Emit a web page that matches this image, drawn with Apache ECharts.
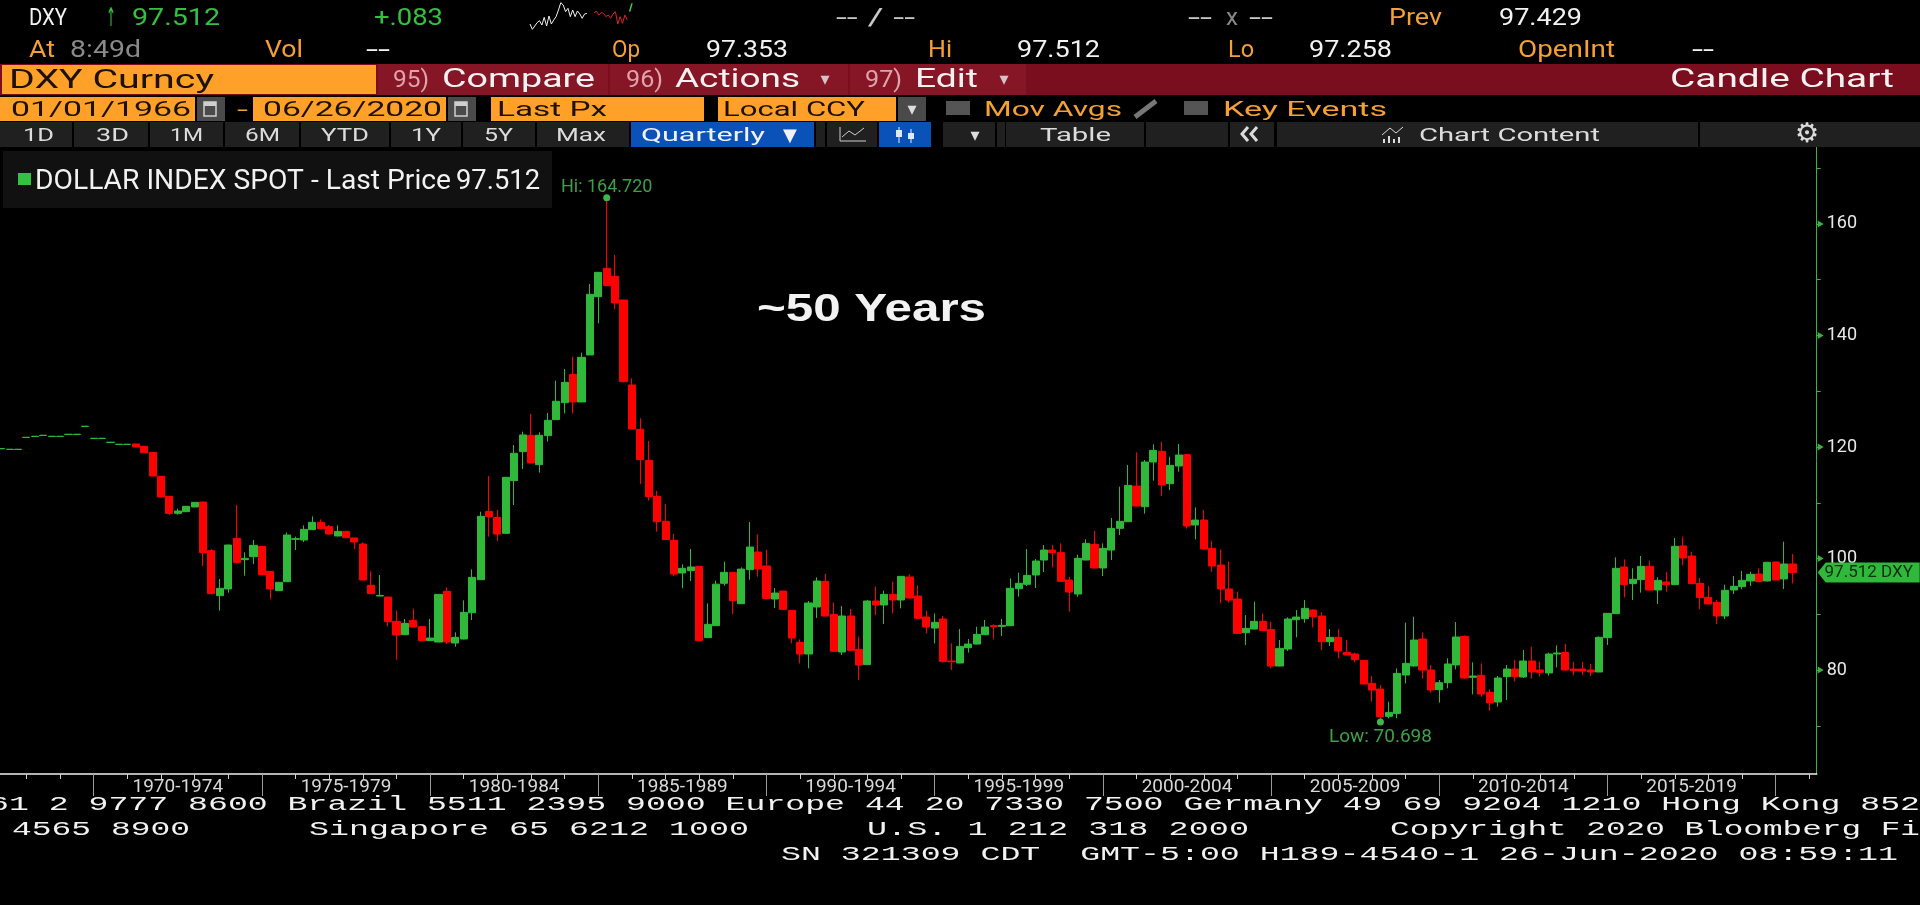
<!DOCTYPE html>
<html><head><meta charset="utf-8"><title>DXY Candle Chart</title>
<style>html,body{margin:0;background:#000;overflow:hidden}#c{width:1920px;height:905px}</style>
<script src="https://cdn.jsdelivr.net/npm/echarts@6/dist/echarts.min.js"></script></head>
<body><div id="c"></div><script>
// ---------- data: quarterly candles, Q1 1967 .. Q2 2020 ----------
const firstQuarterEnd = 1967.25;
const openValues = [
119.68,119.56,119.56,121.71,121.89,122.07,121.89,121.89,122.25,122.25,
123.69,121.53,121.53,120.82,120.46,120.46,120.54,120.12,119.04,114.74,
111.15,108.10,108.40,109.24,110.13,101.40,93.33,94.53,103.62,99.79,
100.33,102.18,97.70,94.23,95.84,103.44,103.32,105.17,106.49,105.71,
104.04,104.87,103.68,102.60,95.19,93.27,93.09,88.73,86.34,88.91,
87.77,85.26,85.02,94.11,84.84,85.56,90.28,96.20,108.46,107.38,
104.52,113.97,119.17,122.10,116.84,122.04,124.91,127.96,133.04,128.08,
136.51,146.97,152.05,150.62,146.37,131.13,123.17,117.61,111.16,106.67,
103.26,97.40,97.82,98.60,85.81,87.96,95.55,97.52,91.90,98.00,
101.17,98.65,92.73,94.17,90.70,84.96,82.87,91.30,95.90,89.98,
83.23,89.69,83.71,80.96,92.38,91.66,93.57,92.56,96.68,93.27,
89.51,87.53,89.15,81.61,81.26,84.01,84.66,86.34,87.95,87.83,
87.95,94.59,95.37,97.04,99.73,101.52,101.05,96.14,93.63,99.73,
102.54,98.30,101.52,105.41,106.60,113.00,109.29,117.31,119.22,113.42,
116.59,118.62,106.01,106.90,101.82,98.83,94.53,92.73,86.69,87.35,
88.73,87.29,80.71,83.76,89.03,89.21,90.76,89.68,85.08,85.86,
83.17,82.87,81.73,77.61,76.59,71.69,72.22,79.10,80.71,85.56,
80.00,76.48,77.73,80.90,86.04,78.69,79.05,76.00,74.26,78.81,
80.18,78.75,81.62,80.00,79.47,82.87,83.17,80.18,80.18,80.00,
79.65,85.80,90.11,98.48,95.49,96.21,98.60,94.35,95.79,95.31,
102.25,100.45,95.55,93.04,92.14,89.69,94.35,94.95,95.97,97.22,
95.97,99.38,96.33,99.02];
const closeValues = [
119.72,119.60,119.60,121.75,121.93,122.11,121.93,121.93,122.29,122.29,
123.73,121.57,121.57,120.86,120.50,120.50,120.00,118.98,114.80,111.03,
108.10,108.52,109.36,110.07,101.05,93.69,94.65,102.42,99.31,100.03,
102.36,97.10,94.53,95.73,104.22,103.56,105.23,106.49,105.35,104.39,
104.87,103.74,102.96,96.14,93.69,93.39,88.67,86.28,88.37,87.71,
85.26,85.74,93.57,85.02,85.86,90.34,96.62,107.56,107.50,104.39,
114.56,118.87,122.16,117.14,122.10,124.79,128.20,131.60,128.08,136.09,
147.39,151.33,148.94,145.83,131.72,123.23,117.73,111.10,106.61,103.38,
97.22,98.24,98.48,85.26,88.20,95.40,97.52,92.44,98.10,102.06,
98.12,92.85,93.81,90.88,85.74,82.87,92.02,95.96,89.69,83.35,
89.69,83.53,80.90,92.38,91.66,93.57,92.56,96.80,92.91,89.27,
87.71,88.55,81.55,81.49,84.24,84.66,86.40,87.71,87.77,88.01,
94.65,95.55,96.98,99.55,101.52,101.05,95.90,93.99,100.03,102.72,
98.30,101.82,105.41,106.67,113.12,109.41,117.31,119.40,113.18,116.71,
118.56,105.83,106.90,101.70,98.65,94.53,92.55,86.57,87.47,88.73,
87.11,80.71,83.88,89.15,89.50,91.06,89.56,85.08,85.86,83.41,
82.69,81.85,77.49,76.41,71.63,72.40,79.40,81.19,85.38,80.00,
76.42,77.73,81.08,85.92,78.57,78.93,75.70,74.09,78.57,80.18,
78.81,81.62,79.65,79.59,82.87,83.05,80.00,79.88,79.82,79.65,
85.86,90.17,98.24,95.31,96.27,98.60,94.35,96.09,95.31,102.19,
100.09,95.49,92.98,91.84,89.69,94.29,95.01,96.09,97.16,95.85,
99.32,96.15,99.02,97.51];
const lowValues = [
119.68,119.56,119.56,121.71,121.89,122.07,121.89,121.89,122.25,122.25,
123.69,121.53,121.53,120.82,120.46,120.46,119.95,118.95,114.75,111.00,
107.80,107.86,108.35,109.20,98.65,93.60,90.64,93.87,99.13,96.92,
99.01,97.05,92.68,94.20,95.80,101.52,102.96,105.10,105.30,104.35,
104.00,103.70,101.70,96.10,93.65,93.25,87.83,81.85,86.30,87.70,
85.20,85.20,85.00,84.66,84.19,85.50,88.97,96.15,103.92,103.14,
104.50,109.60,116.06,117.10,115.40,120.96,124.90,126.04,126.04,128.05,
136.50,142.19,148.90,144.76,131.60,123.20,113.37,110.38,104.82,103.35,
96.87,94.65,95.97,85.20,85.80,87.90,95.13,90.05,91.85,96.20,
96.74,92.80,91.12,90.85,84.78,81.20,80.30,89.33,89.65,83.30,
82.69,83.50,78.21,80.90,89.87,88.25,90.16,91.06,92.85,89.20,
86.58,84.78,81.30,80.00,81.20,83.11,84.60,86.30,85.50,86.10,
87.90,93.15,95.07,94.71,97.58,98.42,95.85,90.46,93.15,99.70,
98.25,96.86,99.73,104.21,106.55,109.35,108.04,113.96,111.21,112.28,
115.57,105.35,103.44,101.65,97.64,91.96,92.08,86.50,84.48,87.30,
87.05,80.30,80.65,83.41,85.86,88.49,87.65,83.59,84.30,82.09,
82.65,81.37,77.45,74.32,70.698,71.33,71.33,77.61,80.65,78.45,
75.94,74.14,76.72,80.12,78.45,75.64,75.22,72.65,73.43,74.62,
77.97,78.57,78.45,78.81,78.99,80.48,79.95,79.05,79.05,78.93,
79.60,84.49,90.05,93.04,92.56,93.88,94.30,91.84,94.06,95.25,
98.78,95.45,90.89,91.80,88.26,89.15,93.64,94.47,95.07,95.80,
95.90,96.10,94.53,95.55];
const highValues = [
119.72,119.60,119.60,121.75,121.93,122.11,121.93,121.93,122.29,122.29,
123.73,121.57,121.57,120.86,120.50,120.50,120.60,120.20,119.10,114.80,
111.20,108.94,109.40,110.10,110.20,101.70,96.32,102.50,109.60,101.11,
103.32,102.20,97.75,95.80,104.69,103.92,105.95,107.56,107.03,106.01,
105.95,104.90,103.70,102.90,97.70,97.04,93.10,90.64,89.15,91.00,
87.80,89.15,93.60,94.83,86.76,92.50,98.06,108.40,114.80,108.70,
114.60,120.36,122.76,125.92,122.64,126.10,131.90,134.00,136.21,136.92,
149.24,151.40,164.72,154.44,146.40,132.32,125.15,121.08,112.11,109.78,
104.40,98.96,101.71,98.65,91.96,96.03,99.44,97.55,98.40,106.55,
104.33,101.52,94.71,94.20,90.75,85.50,92.38,96.62,97.22,92.14,
91.48,90.94,85.98,92.55,94.95,94.23,95.84,96.85,97.16,95.19,
90.64,90.16,89.69,84.78,87.35,85.56,87.77,88.97,88.19,89.15,
96.44,97.46,101.70,99.90,102.42,102.42,102.72,96.74,100.69,103.44,
104.93,102.72,107.26,112.88,116.77,119.04,117.67,120.48,120.95,118.26,
120.54,118.65,109.18,108.70,103.20,101.64,99.43,94.05,89.86,92.25,
90.16,88.67,85.38,89.45,90.76,92.55,90.88,90.34,87.35,87.35,
85.38,83.11,81.75,78.92,77.31,74.32,80.30,88.49,89.56,86.76,
80.90,78.21,82.10,88.61,86.20,81.38,81.20,76.54,78.93,80.90,
81.80,83.59,84.19,81.50,83.11,84.43,84.67,81.50,81.44,81.08,
86.04,90.20,100.21,99.85,98.24,100.45,99.62,96.63,97.58,103.68,
103.92,101.23,96.51,95.07,92.56,95.31,96.87,97.76,97.64,98.24,
99.40,99.45,103.02,100.81];
const highPoint = [1985.25, 164.72];
const lowPoint = [2008.25, 70.698];
const lastPrice = 97.512;
const yMajorTicks = [80,100,120,140,160];
const yAllTicks = [70,80,90,100,110,120,130,140,150,160,170];
const periodStarts = [1970,1975,1980,1985,1990,1995,2000,2005,2010,2015,2020];
const periodLabels = ['1970-1974','1975-1979','1980-1984','1985-1989','1990-1994','1995-1999','2000-2004','2005-2009','2010-2014','2015-2019'];
const sparkWhite = [36,20,30,40,46,33,56,30,60,36,48,58,78,100,93,73,83,58,78,58,75,66,53,66,68];
const sparkRed = [70,74,63,70,68,58,63,53,66,73,36,58,38,63,48];
const sparkGreen = [73,98];

// ---------- page furniture ----------
const X_MIN = 1967.2146, X_MAX = 2021.219, Y_MIN = 61.35, Y_MAX = 173.81;
const ORANGE='#f5a033', BOX='#ffa028', INK='#1d1105', WHITE='#f2f2f2', GREEN='#34c040', GREY='#8a8a8a', PINK='#e0a3ab', SOFT='#dcdcdc';
const boxes = [
 [0,64,1920,31,'#7b0e1e'],[2,65,374,29,BOX],[378,64,230,31,'#861626'],[610,64,238,31,'#861626'],[850,64,176,31,'#861626'],
 [0,97,195,24,BOX],[197,97,28,24,'#4a4a4a'],[253,97,193,24,BOX],[448,97,28,24,'#4a4a4a'],[491,97,213,24,BOX],[718,97,178,24,BOX],[898,97,28,24,'#4a4a4a'],
 [946,101,24,14,'#555'],[1184,101,24,14,'#555'],
 [0,122,72,25,'#202020'],[74,122,74,25,'#202020'],[150,122,73,25,'#202020'],[225,122,74,25,'#202020'],[301,122,88,25,'#202020'],[391,122,70,25,'#202020'],[463,122,72,25,'#202020'],[537,122,92,25,'#202020'],
 [631,122,183,25,'#0b52b8'],[816,122,9,25,'#202020'],[827,122,50,25,'#202020'],[879,122,52,25,'#0b52b8'],[943,122,52,25,'#202020'],[997,122,8,25,'#202020'],[1006,122,138,25,'#202020'],[1146,122,82,25,'#202020'],[1230,122,44,25,'#202020'],[1277,122,421,25,'#202020'],[1700,122,220,25,'#202020'],
 [3,151,549,57,'#111111'],[18,173,13,12,GREEN]
];
const NARROW='Roboto, "Liberation Sans", sans-serif', MONO='"Liberation Mono", "DejaVu Sans Mono", monospace';
const texts = [ // text, x0, x1, yCentre, size, colour, family, weight
 ['DXY',29,67,19,24,WHITE],['↑',106,116,19,26,GREEN,'"DejaVu Sans"'],['97.512',132,220,19,24,GREEN],['+.083',374,443,19,24,GREEN],
 ['-- / --',836,915,19,24,'#c8c8c8'],['--',1188,1212,19,24,'#c8c8c8'],['x',1226,1238,19,24,GREY],['--',1249,1273,19,24,'#c8c8c8'],['Prev',1389,1442,19,24,ORANGE],['97.429',1499,1582,19,24,WHITE],
 ['At',29,55,51,24,ORANGE],['8:49d',70,141,51,24,GREY],['Vol',265,303,51,24,ORANGE],['--',366,390,51,24,WHITE],['Op',612,640,51,24,ORANGE],['97.353',706,788,51,24,WHITE],['Hi',928,952,51,24,ORANGE],['97.512',1017,1100,51,24,WHITE],['Lo',1228,1254,51,24,ORANGE],['97.258',1309,1392,51,24,WHITE],['OpenInt',1518,1615,51,24,ORANGE],['--',1692,1714,51,24,WHITE],
 ['DXY Curncy',9,214,82,25,INK],['95)',393,429,81,23,PINK],['Compare',442,595,81,25,WHITE],['96)',626,663,81,23,PINK],['Actions',675,800,81,25,WHITE],['97)',865,902,81,23,PINK],['Edit',915,978,81,25,WHITE],['Candle Chart',1670,1894,81,25,WHITE],
 ['01/01/1966',11,191,111,21,INK],['-',237,248,111,21,ORANGE],['06/26/2020',263,442,111,21,INK],['Last Px',497,607,111,21,INK],['Local CCY',723,865,111,21,INK],['Mov Avgs',984,1122,111,21,ORANGE],['Key Events',1223,1387,111,21,ORANGE],
 ['1D',23,54,136,19,SOFT],['3D',96,129,136,19,SOFT],['1M',170,203,136,19,SOFT],['6M',245,280,136,19,SOFT],['YTD',321,369,136,19,SOFT],['1Y',411,441,136,19,SOFT],['5Y',484,513,136,19,SOFT],['Max',556,606,136,19,SOFT],['Quarterly',641,765,136,19,WHITE],['Table',1040,1111,136,19,SOFT],['Chart Content',1419,1600,136,19,SOFT],
 ['DOLLAR INDEX SPOT - Last Price',35,451,182,27,WHITE],['97.512',456,540,182,27,WHITE],
 ['~50 Years',757,986,310,39,WHITE,'"Liberation Sans"','bold'],
 ['61 2 9777 8600 Brazil 5511 2395 9000 Europe 44 20 7330 7500 Germany 49 69 9204 1210 Hong Kong 852',-11,1920,805,20,WHITE,MONO],
 ['4565 8900',12,190,830,20,WHITE,MONO],['Singapore 65 6212 1000',309,749,830,20,WHITE,MONO],['U.S. 1 212 318 2000',867,1249,830,20,WHITE,MONO],['Copyright 2020 Bloomberg Fi',1390,1920,830,20,WHITE,MONO],
 ['SN 321309 CDT  GMT-5:00 H189-4540-1 26-Jun-2020 08:59:11',781,1898,855,20,WHITE,MONO]
];
const glyphs = [ // small button marks
 ['▾',825,80,18,'#d8c0c4'],['▾',1004,80,18,'#d8c0c4'],['▾',912,110,18,'#ddd'],['▼',790,136,18,WHITE],['▾',975,136,18,'#ddd'],['⚙',1807,135,27,SOFT]
];
const lines = [ // icons drawn as thin polylines
 [[[840,127],[840,141],[866,141]],'#cfcfcf',1],[[[842,137],[849,131],[855,135],[864,128]],'#cfcfcf',1],
 [[[899,127],[899,143]],'#dfe9ff',1],[[[899,130],[899,137]],'#dfe9ff',6],[[[911,129],[911,143]],'#dfe9ff',1],[[[911,133],[911,139]],'#dfe9ff',6],
 [[[1135,117],[1156,101]],'#777',5],
 [[[1384,143],[1384,139]],SOFT,2],[[[1389,143],[1389,136]],SOFT,2],[[[1394,143],[1394,139]],SOFT,2],[[[1399,143],[1399,137]],SOFT,2],[[[1382,135],[1390,128],[1396,133],[1403,127]],SOFT,1],
 [[[1248,127],[1242,134],[1248,141]],SOFT,3],[[[1257,127],[1251,134],[1257,141]],SOFT,3]
];
const cal = [204,455];

const ctx = document.createElement('canvas').getContext('2d');
const graphics = [];
boxes.forEach(b => graphics.push({type:'rect',silent:true,z:1,shape:{x:b[0],y:b[1],width:b[2],height:b[3]},style:{fill:b[4]}}));
cal.forEach(x => { graphics.push({type:'rect',silent:true,z:2,shape:{x:x,y:102,width:12,height:14},style:{fill:'none',stroke:'#cfcfcf',lineWidth:1.5}},
  {type:'rect',silent:true,z:2,shape:{x:x,y:102,width:12,height:4},style:{fill:'#cfcfcf'}}); });
texts.forEach(t => {
  const fam = t[6] || NARROW, w = t[7] || 'normal', font = `${w} ${t[4]}px ${fam}`;
  ctx.font = font;
  const sx = (t[2]-t[1]) / ctx.measureText(t[0]).width;
  graphics.push({type:'text',silent:true,z:3,x:t[1],y:t[3],scaleX:sx,style:{text:t[0],font:font,fill:t[5],align:'left',verticalAlign:'middle'}});
});
glyphs.forEach(g => graphics.push({type:'text',silent:true,z:3,x:g[1],y:g[2],style:{text:g[0],font:`${g[3]}px "DejaVu Sans"`,fill:g[4],align:'center',verticalAlign:'middle'}}));
lines.forEach(l => graphics.push({type:'polyline',silent:true,z:3,shape:{points:l[0]},style:{stroke:l[1],lineWidth:l[2],fill:'none'}}));

const candles = openValues.map((o,i) => [firstQuarterEnd + i/4, o, closeValues[i], lowValues[i], highValues[i]]);
const yearTicks = []; for (let y = 1968; y <= 2021; y++) yearTicks.push(y);
const labelSpots = periodLabels.map((s,i) => periodStarts[i] + 2.5);
const sparkAll = [...sparkWhite, null, null, ...sparkRed, ...sparkGreen];
const sparkCats = sparkAll.map((_,i) => i);
const pad = (arr, at) => sparkAll.map((_,i) => (i>=at && i<at+arr.length) ? arr[i-at] : null);
const none = {show:false};

const chart = echarts.init(document.getElementById('c'), null, {renderer:'canvas', width:1920, height:905});
chart.setOption({
  animation:false, backgroundColor:'#000',
  graphic: graphics,
  grid:[{left:0, top:147, width:1816.7, height:627, containLabel:false},
        {left:530, top:0, width:102, height:36}],
  xAxis:[
   {type:'value',gridIndex:0,min:X_MIN,max:X_MAX,splitLine:none,position:'bottom',
    axisLine:{show:true,onZero:false,lineStyle:{color:'#f0f0f0',width:1.5}},
    axisTick:{show:true,length:5,customValues:yearTicks,lineStyle:{color:'#d0d0d0'}},
    axisLabel:{show:true,customValues:labelSpots,margin:4,fontSize:19,fontFamily:'Roboto',color:'#d8d8d8',
      formatter:v=>periodLabels[labelSpots.indexOf(v)]||''}},
   {type:'value',gridIndex:0,min:X_MIN,max:X_MAX,splitLine:none,position:'bottom',
    axisLine:{show:false,onZero:false},axisLabel:none,
    axisTick:{show:true,length:22,customValues:periodStarts,lineStyle:{color:'#9a9a9a'}}},
   {type:'category',gridIndex:1,data:sparkCats,boundaryGap:false,show:false}
  ],
  yAxis:[
   {type:'value',gridIndex:0,position:'right',min:Y_MIN,max:Y_MAX,splitLine:none,
    axisLine:{show:true,onZero:false,lineStyle:{color:'#3fae49',width:1}},
    axisTick:{show:true,length:4,customValues:yAllTicks,lineStyle:{color:'#3fae49'}},
    axisLabel:{show:true,customValues:yMajorTicks,margin:10,fontSize:18,fontFamily:'Roboto',color:'#e8e8e8',padding:[5,0,0,0]}},
   {type:'value',gridIndex:1,min:0,max:108,show:false}
  ],
  series:[
   {type:'candlestick',name:'DXY',xAxisIndex:0,yAxisIndex:0,data:candles,barWidth:7.6,clip:false,
    itemStyle:{color:'#2fb83a',color0:'#ff0000',borderColor:'#2fb83a',borderColor0:'#ff0000',borderWidth:1}},
   {type:'scatter',name:'Extremes',xAxisIndex:0,yAxisIndex:0,clip:false,symbolSize:7,z:5,itemStyle:{color:'#3cb94a',opacity:1},
    data:[{value:highPoint,label:{show:true,position:'top',distance:-2,formatter:'Hi: 164.720',color:'#3f9f48',fontSize:18,fontFamily:'Roboto'}},
          {value:lowPoint,label:{show:true,position:'bottom',distance:2,formatter:'Low: 70.698',color:'#3f9f48',fontSize:19,fontFamily:'Roboto'}}]},
   {type:'scatter',name:'Major ticks',xAxisIndex:0,yAxisIndex:0,clip:false,symbol:'triangle',symbolRotate:-90,symbolSize:[7,6],symbolOffset:[4,0],silent:true,z:4,
    itemStyle:{color:'#3fae49',opacity:1},data:yMajorTicks.map(v=>[X_MAX,v])},
   {type:'scatter',name:'Last',xAxisIndex:0,yAxisIndex:0,clip:false,silent:true,z:10,symbol:'path://M0 10 L8 0 L102 0 L102 20 L8 20 Z',symbolSize:[102,20],symbolOffset:[52,0],
    itemStyle:{color:'#2fb83a',opacity:1},data:[[X_MAX,lastPrice]],
    label:{show:true,position:'inside',formatter:'97.512 DXY',color:'#0b2b0e',fontSize:17,fontFamily:'Roboto'}},
   {type:'line',name:'Spark white',xAxisIndex:2,yAxisIndex:1,data:pad(sparkWhite,0),symbol:'none',lineStyle:{color:'#f2f2f2',width:1}},
   {type:'line',name:'Spark red',xAxisIndex:2,yAxisIndex:1,data:pad(sparkRed,27),symbol:'none',lineStyle:{color:'#e0202a',width:1}},
   {type:'line',name:'Spark green',xAxisIndex:2,yAxisIndex:1,data:pad(sparkGreen,42),symbol:'none',lineStyle:{color:'#3cd04a',width:1.5}}
  ]
});
</script></body></html>
